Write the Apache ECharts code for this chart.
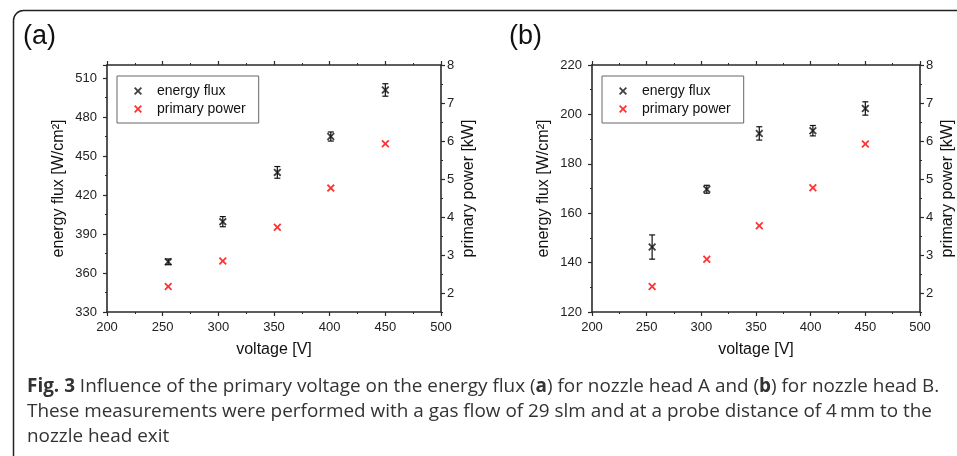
<!DOCTYPE html>
<html>
<head>
<meta charset="utf-8">
<script src="https://cdn.jsdelivr.net/npm/echarts@6/dist/echarts.min.js"></script>
<style>
  html, body { margin: 0; padding: 0; background: #fff; }
  #main { width: 957px; height: 456px; }
</style>
</head>
<body>
<div id="main"></div>
<script>
// voltage [V] of the measuring points
const voltageA = [255, 304, 353, 401, 450];
const voltageB = [255, 305, 353, 402, 450];
// energy flux [W/cm²] and its error
const fluxA = [368.6, 399.5, 437.4, 465.0, 500.8];
const fluxErrA = [2.2, 3.9, 4.5, 3.5, 4.8];
const fluxB = [146.3, 169.7, 192.3, 193.4, 202.4];
const fluxErrB = [4.9, 1.6, 2.7, 2.1, 2.7];
// primary power [kW]
const powerA = [2.17, 2.84, 3.73, 4.76, 5.93];
const powerB = [2.17, 2.89, 3.77, 4.77, 5.92];
// tick values on the power axis
const powerTicks = [2, 3, 4, 5, 6, 7, 8];
const powerMinorTicks = [1.5, 2.5, 3.5, 4.5, 5.5, 6.5, 7.5];

const FONT = 'Liberation Sans, Arial, sans-serif';
const AXC = '#2a2a2a';
const xMark = 'path://M0,1.6L1.6,0L5,3.4L8.4,0L10,1.6L6.6,5L10,8.4L8.4,10L5,6.6L1.6,10L0,8.4L3.4,5Z';

let myChart = echarts.init(document.getElementById('main'));

function pairs(xs, ys) {
  return xs.map((x, i) => [x, ys[i]]);
}
function errData(xs, ys, es) {
  return xs.map((x, i) => [x, ys[i] - es[i], ys[i] + es[i]]);
}
function errRender(params, api) {
  let x = api.value(0);
  let top = api.coord([x, api.value(2)]);
  let bot = api.coord([x, api.value(1)]);
  let w = 3;
  let st = { stroke: '#111', lineWidth: 1.2 };
  return {
    type: 'group',
    children: [
      { type: 'line', shape: { x1: top[0], y1: top[1], x2: bot[0], y2: bot[1] }, style: st },
      { type: 'line', shape: { x1: top[0] - w, y1: top[1], x2: top[0] + w, y2: top[1] }, style: st },
      { type: 'line', shape: { x1: bot[0] - w, y1: bot[1], x2: bot[0] + w, y2: bot[1] }, style: st }
    ]
  };
}

function xAxes(grid) {
  return [
    {
      gridIndex: grid, type: 'value', position: 'bottom', min: 200, max: 500, interval: 50,
      name: 'voltage [V]', nameLocation: 'middle', nameGap: 30,
      nameTextStyle: { fontFamily: FONT, fontSize: 16, color: '#111' },
      axisLine: { lineStyle: { color: AXC, width: 1.6 } },
      axisTick: { length: 4, lineStyle: { color: AXC, width: 1.2 } },
      minorTick: { show: true, splitNumber: 2, length: 2, lineStyle: { color: AXC, width: 1 } },
      axisLabel: { margin: 9, fontFamily: FONT, fontSize: 13, color: '#222' },
      splitLine: { show: false }
    },
    {
      gridIndex: grid, type: 'value', position: 'top', min: 200, max: 500, interval: 50,
      axisLine: { lineStyle: { color: AXC, width: 1.6 } },
      axisTick: { length: 4, lineStyle: { color: AXC, width: 1.2 } },
      minorTick: { show: true, splitNumber: 2, length: 2, lineStyle: { color: AXC, width: 1 } },
      axisLabel: { show: false },
      splitLine: { show: false }
    }
  ];
}

function yAxes(grid, min, max, interval, showMax) {
  return [
    {
      gridIndex: grid, type: 'value', position: 'left', min: min, max: max, interval: interval,
      name: 'energy flux [W/cm²]', nameLocation: 'middle', nameRotate: 90, nameGap: 40,
      nameTextStyle: { fontFamily: FONT, fontSize: 16, color: '#111' },
      axisLine: { show: true, lineStyle: { color: AXC, width: 1.6 } },
      axisTick: { length: 4, lineStyle: { color: AXC, width: 1.2 } },
      minorTick: { show: true, splitNumber: 2, length: 2, lineStyle: { color: AXC, width: 1 } },
      axisLabel: { margin: 10, showMaxLabel: showMax, fontFamily: FONT, fontSize: 13, color: '#222' },
      splitLine: { show: false }
    },
    {
      gridIndex: grid, type: 'value', position: 'right', min: 1.5, max: 8,
      name: 'primary power [kW]', nameLocation: 'middle', nameRotate: 90, nameGap: 20,
      nameTextStyle: { fontFamily: FONT, fontSize: 16, color: '#111' },
      axisLine: { show: true, lineStyle: { color: AXC, width: 1.6 } },
      axisTick: { length: 4, customValues: powerTicks, lineStyle: { color: AXC, width: 1.2 } },
      axisLabel: { margin: 6, customValues: powerTicks, fontFamily: FONT, fontSize: 13, color: '#222' },
      splitLine: { show: false }
    },
    {
      // minor ticks of the power axis
      gridIndex: grid, type: 'value', position: 'right', min: 1.5, max: 8,
      axisLine: { show: false },
      axisTick: { length: 2, customValues: powerMinorTicks, lineStyle: { color: AXC, width: 1 } },
      axisLabel: { show: false },
      splitLine: { show: false }
    }
  ];
}

function legendFor(left) {
  return {
    left: left, top: 76, orient: 'vertical',
    data: ['energy flux', 'primary power'],
    itemWidth: 8, itemHeight: 8, itemGap: 4,
    padding: [8, 13, 7, 17],
    borderColor: '#666', borderWidth: 1,
    selectedMode: false,
    textStyle: { fontFamily: FONT, fontSize: 14, color: '#111', lineHeight: 14, padding: [0, 0, 0, 10] }
  };
}

function seriesFor(grid, xs, flux, err, power) {
  let xi = grid * 2, yi = grid * 3;
  return [
    {
      name: 'err' + grid, type: 'custom', xAxisIndex: xi, yAxisIndex: yi,
      renderItem: errRender, encode: { x: 0, y: [1, 2] }, z: 2,
      data: errData(xs, flux, err)
    },
    {
      name: 'energy flux', type: 'scatter', xAxisIndex: xi, yAxisIndex: yi,
      symbol: xMark, symbolSize: 8, itemStyle: { color: '#111' }, z: 3,
      data: pairs(xs, flux)
    },
    {
      name: 'primary power', type: 'scatter', xAxisIndex: xi, yAxisIndex: yi + 1,
      symbol: xMark, symbolSize: 8, itemStyle: { color: '#ff0000' }, z: 3,
      data: pairs(xs, power)
    }
  ];
}

const captionStyle = {
  fontFamily: 'Open Sans, sans-serif', fontSize: 19, fill: '#333',
  rich: { b: { fontFamily: 'Open Sans, sans-serif', fontSize: 19, fontWeight: 'bold', color: '#111' } }
};

let option = {
  animation: false,
  backgroundColor: '#fff',
  grid: [
    { left: 107, top: 65, width: 334, height: 247 },
    { left: 592, top: 65, width: 334, height: 247 }
  ],
  xAxis: xAxes(0).concat(xAxes(1)),
  yAxis: yAxes(0, 330, 520, 30, false).concat(yAxes(1, 120, 220, 20, true)),
  legend: [legendFor(117), legendFor(602)],
  series: seriesFor(0, voltageA, fluxA, fluxErrA, powerA)
    .concat(seriesFor(1, voltageB, fluxB, fluxErrB, powerB)),
  graphic: [
    {
      type: 'rect', left: 11, top: 8, silent: true,
      shape: { width: 1000, height: 460, r: 10 },
      style: { fill: 'none', stroke: '#222', lineWidth: 1.5 }
    },
    { type: 'text', left: 23, top: 23, style: { text: '(a)', fontFamily: FONT, fontSize: 27, fill: '#111' } },
    { type: 'text', left: 509, top: 23, style: { text: '(b)', fontFamily: FONT, fontSize: 27, fill: '#111' } },
    {
      type: 'text', x: 27, y: 377, scaleX: 0.995, originX: 0,
      style: Object.assign({ text: '{b|Fig. 3} Influence of the primary voltage on the energy flux ({b|a}) for nozzle head A and ({b|b}) for nozzle head B.' }, captionStyle)
    },
    {
      type: 'text', x: 27, y: 402, scaleX: 0.995, originX: 0,
      style: Object.assign({ text: 'These measurements were performed with a gas flow of 29 slm and at a probe distance of 4\u2009mm to the' }, captionStyle)
    },
    {
      type: 'text', x: 27, y: 427, scaleX: 0.995, originX: 0,
      style: Object.assign({ text: 'nozzle head exit' }, captionStyle)
    }
  ]
};

myChart.setOption(option);
</script>
</body>
</html>
